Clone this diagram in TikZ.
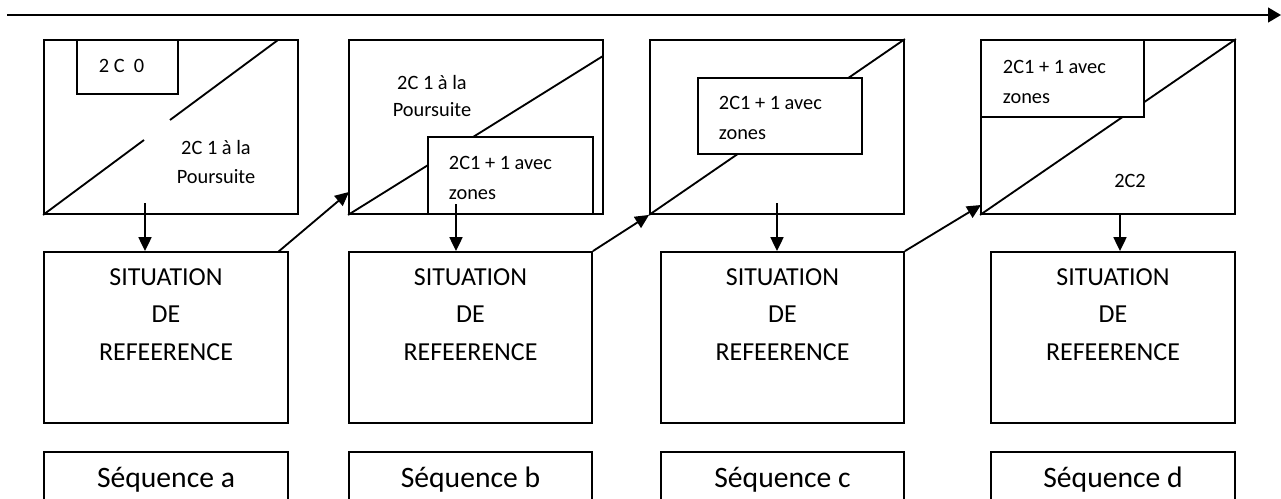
\documentclass[tikz,border=0pt]{standalone}
\usepackage{fontspec}
\setmainfont{Carlito}
\usetikzlibrary{arrows.meta,calc,fit}

\begin{document}
\begin{tikzpicture}[x=0.54pt,y=-0.54pt,
  line width=1pt,
  frame/.style={draw, line width=1pt, rectangle, inner sep=0pt},
  cover/.style={frame, fill=white},
  arr/.style={-{Triangle[length=7.5pt,width=7pt]}},
  toparr/.style={-{Triangle[length=7pt,width=8pt]}},
  small/.style={font=\fontsize{11pt}{16pt}\selectfont, inner sep=0pt},
  mid/.style={font=\fontsize{14pt}{20.2pt}\selectfont, align=center, inner sep=0pt},
  big/.style={font=\fontsize{16pt}{19pt}\selectfont, inner sep=0pt}]

\useasboundingbox (0,0) rectangle (1281,499);
\clip (0,0) rectangle (1281,499);

% time line across the top
\coordinate (tl) at (7,15);
\coordinate (tr) at (1281,15);
\draw[toparr] (tl) -- (tr);

% ---------- stage a ----------
\node[frame, fit={(44,40) (298,214)}] (b1) {};
\coordinate (b1g1) at (144,140);
\coordinate (b1g2) at (170,120);
\coordinate (b1t) at (278,40);
\draw (b1.south west) -- (b1g1);
\draw (b1g2) -- (b1t);
\node[cover, fit={(77,40) (178,94)}] (b1i) {};
\node[small, anchor=west] (b1it) at (98,66) {2 C\ \ 0};
\node[small, align=center] (b1t2) at (216,162) {2C 1 à la\\Poursuite};

% ---------- stage b ----------
\node[frame, fit={(349,40) (603,214)}] (b2) {};
\coordinate (b2t) at (603,56);
\draw (b2.south west) -- (b2t);
\node[small, align=center] (b2t1) at (432,96) {2C 1 à la\\[-1pt]Poursuite};
\node[cover, fit={(428,137) (593,214)}] (b2i) {};
\node[small, align=left, anchor=west] (b2it) at (448,178) {2C1 + 1 avec\\zones};

% ---------- stage c ----------
\node[frame, fit={(650,40) (904,214)}] (b3) {};
\draw (b3.south west) -- (b3.north east);
\node[cover, fit={(698,78) (862,154)}] (b3i) {};
\node[small, align=left, anchor=west] (b3it) at (718,118) {2C1 + 1 avec\\zones};

% ---------- stage d ----------
\node[frame, fit={(981,40) (1235,214)}] (b4) {};
\draw (b4.south west) -- (b4.north east);
\node[cover, fit={(981,40) (1144,117)}] (b4i) {};
\node[small, align=left, anchor=west] (b4it) at (1002,82) {2C1 + 1 avec\\zones};
\node[small] (b4t2) at (1130,181) {2C2};

% ---------- reference situations ----------
\node[frame, fit={(44,252) (288,423)}] (s1) {};
\node[frame, fit={(349,252) (592,423)}] (s2) {};
\node[frame, fit={(661,252) (904,423)}] (s3) {};
\node[frame, fit={(991,252) (1235,423)}] (s4) {};
\foreach \s in {s1,s2,s3,s4}{
  \node[mid] (\s txt) at ($(\s.north)+(0,63.5)$) {SITUATION\\DE\\REFEERENCE};
}

% ---------- sequences ----------
\node[frame, fit={(44,452) (288,530)}] (q1) {};
\node[frame, fit={(349,452) (592,530)}] (q2) {};
\node[frame, fit={(661,452) (904,530)}] (q3) {};
\node[frame, fit={(991,452) (1235,530)}] (q4) {};
\node[big] (q1t) at (166,480) {Séquence a};
\node[big] (q2t) at (470.5,480) {Séquence b};
\node[big] (q3t) at (782.5,480) {Séquence c};
\node[big] (q4t) at (1113,480) {Séquence d};

% ---------- vertical links ----------
\coordinate (d1) at (145,203);
\coordinate (d2) at (456,204);
\coordinate (d3) at (777,203);
\coordinate (d4) at (1120,214);
\draw[arr] (d1) -- (d1 |- s1.north);
\draw[arr] (d2) -- (d2 |- s2.north);
\draw[arr] (d3) -- (d3 |- s3.north);
\draw[arr] (d4) -- (d4 |- s4.north);

% ---------- diagonal links ----------
\coordinate (u1) at (278,252);
\coordinate (v1) at (349,192);
\coordinate (v3) at (981,205);
\draw[arr] (u1) -- (v1);
\draw[arr] (s2.north east) -- (b3.south west);
\draw[arr] (s3.north east) -- (v3);

\end{tikzpicture}
\end{document}
